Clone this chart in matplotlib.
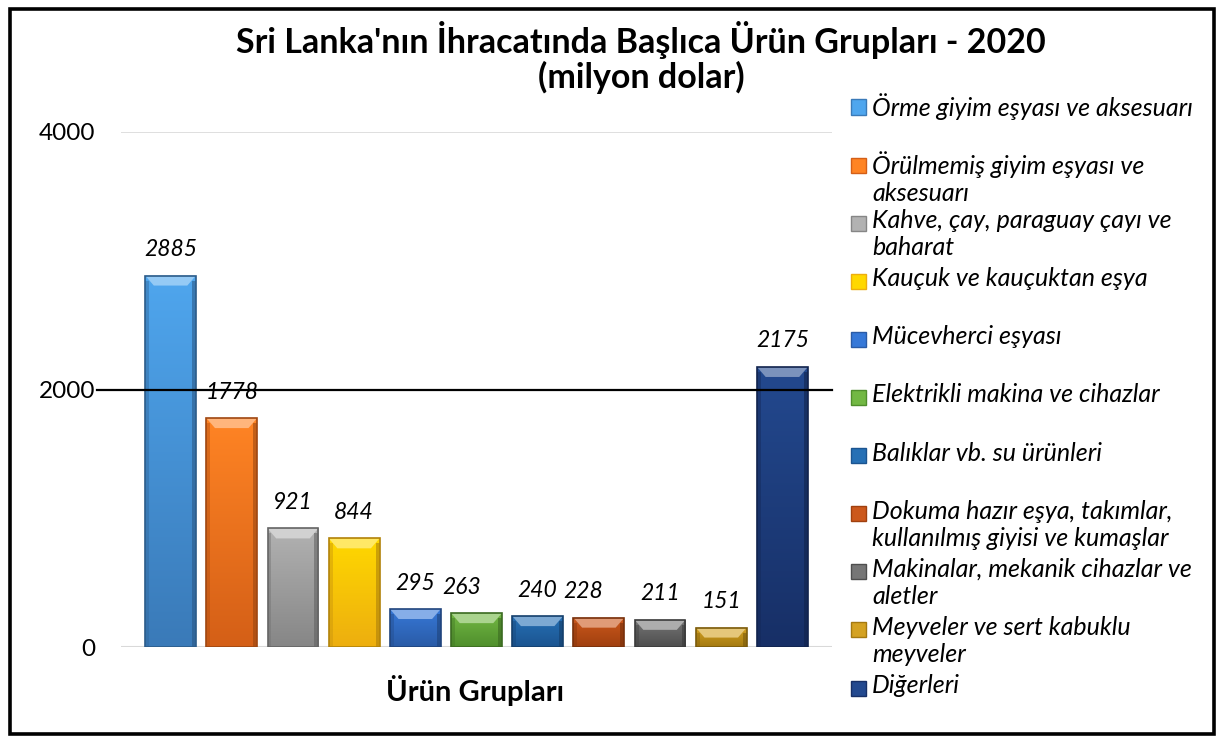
import numpy as np
import matplotlib
matplotlib.use('Agg')
import matplotlib.pyplot as plt
from matplotlib import patches
from matplotlib.colors import LinearSegmentedColormap, to_rgb

plt.rcParams['font.family'] = ['Lato', 'DejaVu Sans']

# data
urunler = [
    'Örme giyim eşyası ve aksesuarı',
    'Örülmemiş giyim eşyası ve\naksesuarı',
    'Kahve, çay, paraguay çayı ve\nbaharat',
    'Kauçuk ve kauçuktan eşya',
    'Mücevherci eşyası',
    'Elektrikli makina ve cihazlar',
    'Balıklar vb. su ürünleri',
    'Dokuma hazır eşya, takımlar,\nkullanılmış giyisi ve kumaşlar',
    'Makinalar, mekanik cihazlar ve\naletler',
    'Meyveler ve sert kabuklu\nmeyveler',
    'Diğerleri',
]
degerler = [2885, 1778, 921, 844, 295, 263, 240, 228, 211, 151, 2175]
yticks = [0, 2000, 4000]

# top / bottom colour of each bar
renk_ust = ['#4FA6EE', '#FF8424', '#B2B2B2', '#FFD800', '#3678D8', '#72B843',
            '#2670B5', '#CC581C', '#767676', '#D4A222', '#23498F']
renk_alt = ['#3A7AB8', '#D45F17', '#868686', '#EDAE0F', '#2A5BA6', '#4F8E2C',
            '#1B5490', '#A0400F', '#4E4E4E', '#A47910', '#172F66']

# small horizontal nudges of some value labels (pixels), as in the original
etiket_kayma = [0, 0, 0, 0, 0, -15, 0, -16, 0, 0, 0]

W, H = 1223, 740
fig = plt.figure(figsize=(W / 100, H / 100), dpi=100)
ax = fig.add_axes([121 / W, (H - 647) / H, 711 / W, (647 - 132) / H])

x = np.arange(len(degerler))
bars = ax.bar(x, degerler, width=0.83, color='none', edgecolor='none', zorder=2)

ax.set_xlim(-0.81, len(degerler) - 0.19)
ax.set_ylim(0, 4000)
px = 4000 / (647 - 132)  # data units per pixel (vertical)

for i, b in enumerate(bars):
    bx, bw, bh = b.get_x(), b.get_width(), b.get_height()
    cmap = LinearSegmentedColormap.from_list('g', [renk_alt[i], renk_ust[i]])
    grad = np.linspace(0, 1, 256).reshape(-1, 1)
    im = ax.imshow(grad, cmap=cmap, origin='lower', aspect='auto',
                   extent=[bx, bx + bw, 0, bh], zorder=2)
    im.set_clip_path(b)
    top = np.array(to_rgb(renk_ust[i]))
    alt = np.array(to_rgb(renk_alt[i]))
    dx = bw * 0.17
    dy = 10 * px
    # top bevel (light)
    ax.add_patch(patches.Polygon([(bx, bh), (bx + bw, bh), (bx + bw - dx, bh - dy),
                                  (bx + dx, bh - dy)], closed=True,
                                 facecolor=np.clip(top * 0.6 + 0.4, 0, 1),
                                 edgecolor='none', zorder=3))
    # side bevels
    ax.add_patch(patches.Rectangle((bx, 0), dx * 0.45, bh - dy * 0.5,
                                   facecolor=alt * 0.85, alpha=0.45,
                                   edgecolor='none', zorder=3))
    ax.add_patch(patches.Rectangle((bx + bw - dx * 0.45, 0), dx * 0.45, bh - dy * 0.5,
                                   facecolor=alt * 0.7, alpha=0.55,
                                   edgecolor='none', zorder=3))
    ax.add_patch(patches.Rectangle((bx, 0), bw, bh, facecolor='none',
                                   edgecolor=alt * 0.75, lw=1.2, zorder=3))
    ax.annotate(str(degerler[i]), (b.get_x() + bw / 2, bh),
                xytext=(etiket_kayma[i] * 0.72, 26 * 0.72), textcoords='offset points',
                ha='center', va='center', fontsize=16.5, style='italic',
                color='black', zorder=6)

ax.axhline(4000, color='#D9D9D9', lw=1.2, zorder=1)
ax.axhline(0, color='#D9D9D9', lw=1.5, zorder=1)
ax.axhline(2000, xmin=-24 / 711, xmax=1, color='black', lw=1.6,
           clip_on=False, zorder=5)

ax.set_yticks(yticks)
ax.set_yticklabels([str(v) for v in yticks], fontsize=17.5)
ax.tick_params(axis='y', length=0, pad=18.5)
ax.set_xticks([])
for s in ax.spines.values():
    s.set_visible(False)

# titles
fig.text(641 / W, 1 - 40 / H, "Sri Lanka'nın İhracatında Başlıca Ürün Grupları - 2020",
         ha='center', va='center', fontsize=24.5, fontweight='bold')
fig.text(641 / W, 1 - 77 / H, '(milyon dolar)', ha='center', va='center',
         fontsize=24.5, fontweight='bold')
fig.text(475 / W, 1 - 690 / H, 'Ürün Grupları', ha='center', va='center',
         fontsize=21, fontweight='bold')

# legend, drawn by hand like the original's evenly spaced entries
y0, y1 = 107, 688
step = (y1 - y0) / (len(urunler) - 1)
for i, lab in enumerate(urunler):
    yc = y0 + i * step
    fig.patches.append(patches.Rectangle((851 / W, 1 - (yc + 7.5) / H), 15 / W, 15 / H,
                                         transform=fig.transFigure,
                                         facecolor=renk_ust[i], edgecolor=renk_alt[i],
                                         lw=1.0))
    fig.text(872 / W, 1 - (yc - 14) / H, lab, ha='left', va='top', fontsize=18,
             style='italic', linespacing=1.2)

# outer frame
fig.patches.append(patches.Rectangle((9.5 / W, 1 - 734 / H), 1204 / W, 725 / H,
                                     transform=fig.transFigure, facecolor='none',
                                     edgecolor='black', lw=2.6))

fig.savefig('out.png', dpi=100)
